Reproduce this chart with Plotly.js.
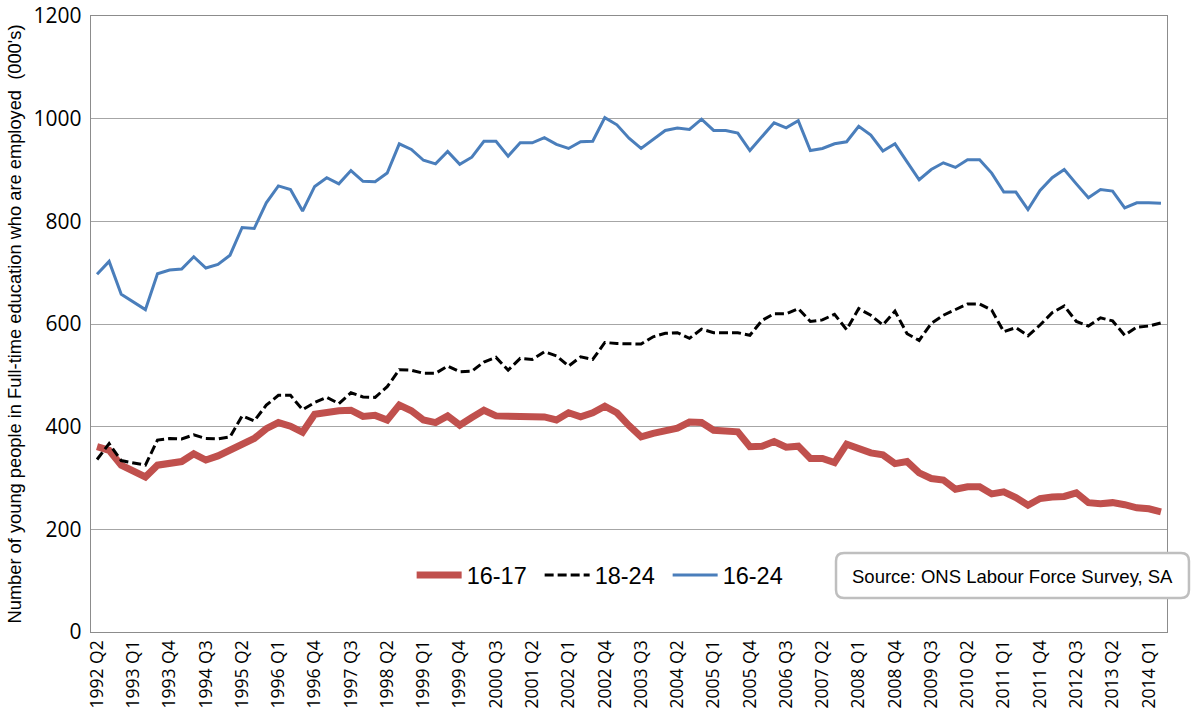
<!DOCTYPE html>
<html>
<head>
<meta charset="utf-8">
<script src="https://cdn.plot.ly/plotly-3.0.1.min.js"></script>
<style>html,body{margin:0;padding:0;background:#fff;}#chart{width:1192px;height:715px;}</style>
</head>
<body>
<div id="chart"></div>
<script>
// Quarterly categories, 1992 Q2 .. 2014 Q2
var quarters = [
"1992 Q2","1992 Q3","1992 Q4",
"1993 Q1","1993 Q2","1993 Q3","1993 Q4",
"1994 Q1","1994 Q2","1994 Q3","1994 Q4",
"1995 Q1","1995 Q2","1995 Q3","1995 Q4",
"1996 Q1","1996 Q2","1996 Q3","1996 Q4",
"1997 Q1","1997 Q2","1997 Q3","1997 Q4",
"1998 Q1","1998 Q2","1998 Q3","1998 Q4",
"1999 Q1","1999 Q2","1999 Q3","1999 Q4",
"2000 Q1","2000 Q2","2000 Q3","2000 Q4",
"2001 Q1","2001 Q2","2001 Q3","2001 Q4",
"2002 Q1","2002 Q2","2002 Q3","2002 Q4",
"2003 Q1","2003 Q2","2003 Q3","2003 Q4",
"2004 Q1","2004 Q2","2004 Q3","2004 Q4",
"2005 Q1","2005 Q2","2005 Q3","2005 Q4",
"2006 Q1","2006 Q2","2006 Q3","2006 Q4",
"2007 Q1","2007 Q2","2007 Q3","2007 Q4",
"2008 Q1","2008 Q2","2008 Q3","2008 Q4",
"2009 Q1","2009 Q2","2009 Q3","2009 Q4",
"2010 Q1","2010 Q2","2010 Q3","2010 Q4",
"2011 Q1","2011 Q2","2011 Q3","2011 Q4",
"2012 Q1","2012 Q2","2012 Q3","2012 Q4",
"2013 Q1","2013 Q2","2013 Q3","2013 Q4",
"2014 Q1","2014 Q2"
];

// Tick labels shown on the axis (every third quarter)
var tickLabels = [
"1992 Q2","1993 Q1","1993 Q4","1994 Q3","1995 Q2","1996 Q1","1996 Q4","1997 Q3",
"1998 Q2","1999 Q1","1999 Q4","2000 Q3","2001 Q2","2002 Q1","2002 Q4","2003 Q3",
"2004 Q2","2005 Q1","2005 Q4","2006 Q3","2007 Q2","2008 Q1","2008 Q4","2009 Q3",
"2010 Q2","2011 Q1","2011 Q4","2012 Q3","2013 Q2","2014 Q1"
];

// 16-17 year olds (000's)
var age16_17 = [
361,354,325,312,302,325,328,332,347,335,343,354,367,377,396,408,401,389,424,429,431,432,420,
422,413,442,431,413,408,421,403,418,432,421,421,421,422,419,413,427,419,427,440,427,402,
380,387,393,397,409,408,393,393,390,361,362,371,360,362,338,338,330,366,356,349,345,328,
332,310,299,296,278,283,283,269,273,262,247,260,263,264,271,252,250,252,248,242,240,234
];

// 18-24 year olds (000's)
var age18_24 = [
336,367,334,330,325,374,377,376,384,377,376,380,421,411,442,461,461,433,447,457,445,466,458,
457,478,511,510,504,504,518,507,508,526,535,510,533,531,546,538,518,536,531,564,562,561,
561,575,582,583,572,590,583,583,583,578,607,620,620,630,605,608,619,589,630,617,598,625,
581,568,601,617,628,639,639,627,585,593,577,598,622,635,605,596,612,606,578,594,596,602
];

// 16-24 year olds (000's)
var age16_24 = [
697,722,658,643,628,698,705,707,731,709,716,734,788,786,836,869,862,820,868,885,873,899,878,
877,894,951,940,919,912,936,911,925,956,956,927,953,953,963,950,942,955,956,1002,988,962,
942,959,977,982,979,999,977,977,972,938,966,992,982,996,938,942,951,955,985,968,937,951,
916,881,901,914,905,920,920,894,857,857,823,860,885,901,873,846,862,859,826,836,836,835
];

var seriesNames = ["16-17","18-24","16-24"];
var sourceText = "Source: ONS Labour Force Survey, SA";
var yTitle = "Number of young people in Full-time education who are employed  (000's)";

var traces = [
  {x: quarters, y: age16_17, name: seriesNames[0], type: "scatter", mode: "lines",
   line: {color: "#C0504D", width: 7, shape: "linear"}},
  {x: quarters, y: age18_24, name: seriesNames[1], type: "scatter", mode: "lines",
   line: {color: "#000000", width: 3, dash: "9px,4px"}},
  {x: quarters, y: age16_24, name: seriesNames[2], type: "scatter", mode: "lines",
   line: {color: "#4A7EBB", width: 3}}
];

// rounded source box (paper coords)
var bx0 = 0.6924, bx1 = 1.0204, by0 = 0.0552, by1 = 0.1282, rx = 0.0074, ry = 0.013;
var boxPath = "M" + (bx0+rx) + "," + by1 + " L" + (bx1-rx) + "," + by1 +
  " Q" + bx1 + "," + by1 + " " + bx1 + "," + (by1-ry) +
  " L" + bx1 + "," + (by0+ry) + " Q" + bx1 + "," + by0 + " " + (bx1-rx) + "," + by0 +
  " L" + (bx0+rx) + "," + by0 + " Q" + bx0 + "," + by0 + " " + bx0 + "," + (by0+ry) +
  " L" + bx0 + "," + (by1-ry) + " Q" + bx0 + "," + by1 + " " + (bx0+rx) + "," + by1 + " Z";

var layout = {
  width: 1192, height: 715,
  margin: {l: 91, r: 25, t: 16, b: 83, pad: 0},
  paper_bgcolor: "#ffffff", plot_bgcolor: "#ffffff",
  font: {family: "Liberation Sans, Arial, sans-serif", color: "#000000"},
  showlegend: true,
  legend: {
    orientation: "h", x: 0.298, xanchor: "left", y: 0.092, yanchor: "middle",
    font: {family: "Liberation Sans, Arial, sans-serif", size: 23.5, color: "#000"},
    bgcolor: "rgba(0,0,0,0)", itemwidth: 45, entrywidth: 68,
    traceorder: "normal"
  },
  xaxis: {
    type: "category", range: [-0.5, quarters.length - 0.5],
    tickmode: "array", tickvals: tickLabels, ticktext: tickLabels,
    tickangle: -90, tickfont: {family: "Open Sans, sans-serif", size: 17.5, color: "#000"},
    showgrid: false, showline: true, linecolor: "#8c8c8c", linewidth: 1.3, mirror: true,
    ticks: "", zeroline: false, fixedrange: true
  },
  yaxis: {
    range: [0, 1200], dtick: 200, tick0: 0,
    tickfont: {family: "Open Sans, sans-serif", size: 21, color: "#000"},
    showgrid: true, gridcolor: "#a6a6a6", gridwidth: 1,
    showline: true, linecolor: "#8c8c8c", linewidth: 1.3, mirror: true,
    ticks: "outside", ticklen: 4, tickcolor: "rgba(0,0,0,0)",
    zeroline: false,
    title: {text: yTitle, standoff: 7,
            font: {family: "Liberation Sans, Arial, sans-serif", size: 18.3, color: "#000"}}
  },
  shapes: [
    {type: "path", xref: "paper", yref: "paper", path: boxPath,
     line: {color: "#bfbfbf", width: 2.5}, fillcolor: "#ffffff", layer: "above"}
  ],
  annotations: [
    {xref: "paper", yref: "paper", x: 0.856, y: 0.0909, xanchor: "center", yanchor: "middle",
     text: sourceText, showarrow: false,
     font: {family: "Liberation Sans, Arial, sans-serif", size: 18.5, color: "#000"}}
  ]
};

Plotly.newPlot("chart", traces, layout, {displayModeBar: false, staticPlot: true});
</script>
</body>
</html>
